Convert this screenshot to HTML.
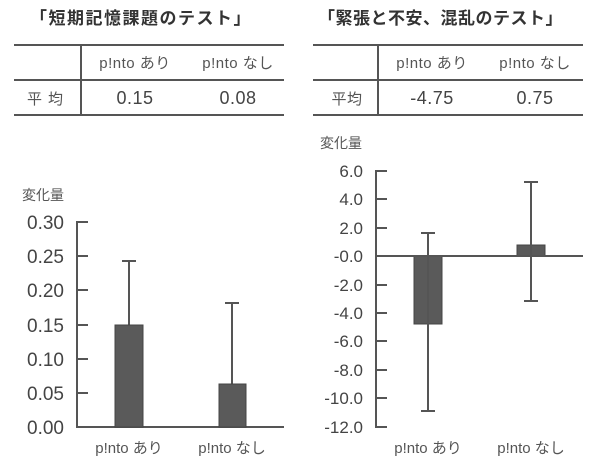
<!DOCTYPE html><html><head><meta charset="utf-8"><style>body{margin:0;background:#fff}</style></head><body>
<svg width="600" height="459" xmlns="http://www.w3.org/2000/svg" font-family="Liberation Sans, Noto Sans CJK JP, sans-serif" fill="#444">
<g font-family="Noto Sans CJK JP, sans-serif" font-weight="bold" font-size="17" fill="#333">
<text x="30" y="24" letter-spacing="1.5">「短期記憶課題のテスト」</text>
<text x="318" y="24" letter-spacing="0.5">「緊張と不安、混乱のテスト」</text>
</g>
<g stroke="#555" stroke-width="2">
<line x1="14" y1="45" x2="284" y2="45"/><line x1="14" y1="80" x2="284" y2="80"/><line x1="14" y1="115" x2="284" y2="115"/><line x1="81" y1="45" x2="81" y2="115"/>
<line x1="313" y1="45" x2="583" y2="45"/><line x1="313" y1="80" x2="583" y2="80"/><line x1="313" y1="115" x2="583" y2="115"/><line x1="378" y1="45" x2="378" y2="115"/>
</g>
<g font-size="15" fill="#555" text-anchor="middle" letter-spacing="0.5">
<text x="135" y="68">p!nto あり</text><text x="238" y="68">p!nto なし</text>
<text x="432" y="68">p!nto あり</text><text x="535" y="68">p!nto なし</text>
<text x="48" y="104" letter-spacing="6">平均</text><text x="347" y="104">平均</text>
</g>
<g font-size="18" fill="#444" text-anchor="middle" letter-spacing="0.5">
<text x="135" y="104">0.15</text><text x="238" y="104">0.08</text>
<text x="432" y="104">-4.75</text><text x="535" y="104">0.75</text>
</g>
<g font-size="14" fill="#555"><text x="22" y="200">変化量</text><text x="320" y="148">変化量</text></g>
<!-- left chart -->
<g stroke="#555" stroke-width="2" fill="none">
<line x1="77" y1="221" x2="77" y2="428"/><line x1="76" y1="427" x2="284" y2="427"/>
<path d="M77 222h11M77 256h11M77 290h11M77 325h11M77 359h11M77 393h11"/>
<line x1="129" y1="261" x2="129" y2="325"/><line x1="122" y1="261" x2="136" y2="261"/>
<line x1="232" y1="303" x2="232" y2="384"/><line x1="225" y1="303" x2="239" y2="303"/>
</g>
<rect x="115" y="325" width="28" height="102" fill="#5a5a5a" stroke="#444"/>
<rect x="219" y="384" width="27" height="43" fill="#5a5a5a" stroke="#444"/>
<g font-size="19" fill="#444" text-anchor="end">
<text x="64" y="229">0.30</text><text x="64" y="263">0.25</text><text x="64" y="297">0.20</text><text x="64" y="332">0.15</text><text x="64" y="366">0.10</text><text x="64" y="400">0.05</text><text x="64" y="434">0.00</text>
</g>
<g font-size="15" fill="#555" text-anchor="middle"><text x="129" y="453">p!nto あり</text><text x="232" y="453">p!nto なし</text></g>
<!-- right chart -->
<rect x="414" y="256" width="28" height="68" fill="#5a5a5a" stroke="#444"/>
<rect x="517" y="245" width="28" height="11" fill="#5a5a5a" stroke="#444"/>
<g stroke="#555" stroke-width="2" fill="none">
<line x1="376" y1="170" x2="376" y2="428"/><line x1="376" y1="256" x2="583" y2="256"/>
<path d="M376 171h11M376 199h11M376 228h11M376 285h11M376 313h11M376 341h11M376 370h11M376 398h11M376 427h11"/>
<line x1="428" y1="233" x2="428" y2="411"/><line x1="421" y1="233" x2="435" y2="233"/><line x1="421" y1="411" x2="435" y2="411"/>
<line x1="531" y1="182" x2="531" y2="301"/><line x1="524" y1="182" x2="538" y2="182"/><line x1="524" y1="301" x2="538" y2="301"/>
</g>
<g font-size="17" fill="#444" text-anchor="end">
<text x="363" y="177">6.0</text><text x="363" y="205">4.0</text><text x="363" y="234">2.0</text><text x="363" y="262">-0.0</text><text x="363" y="291">-2.0</text><text x="363" y="319">-4.0</text><text x="363" y="347">-6.0</text><text x="363" y="376">-8.0</text><text x="363" y="404">-10.0</text><text x="363" y="433">-12.0</text>
</g>
<g font-size="15" fill="#555" text-anchor="middle"><text x="428" y="453">p!nto あり</text><text x="531" y="453">p!nto なし</text></g>
</svg>
</body></html>
